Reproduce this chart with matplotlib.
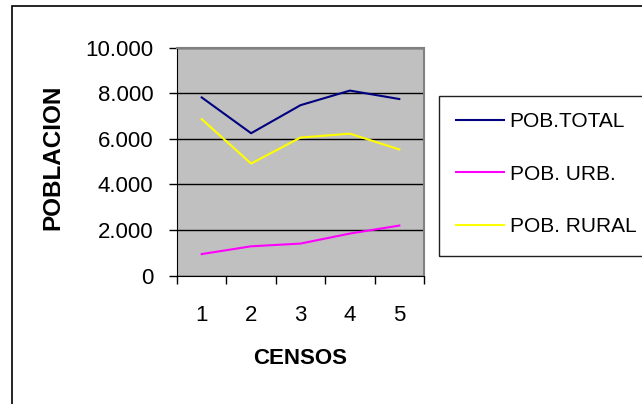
import numpy as np
import matplotlib
matplotlib.use("Agg")
import matplotlib.pyplot as plt
from matplotlib.patches import Rectangle

matplotlib.rc("font", family=["Liberation Sans", "DejaVu Sans"])

censos = [1, 2, 3, 4, 5]
pob_total = [7810, 6240, 7470, 8110, 7740]
pob_urb = [940, 1280, 1400, 1840, 2190]
pob_rural = [6860, 4910, 6050, 6220, 5530]
y_ticks = [0, 2000, 4000, 6000, 8000, 10000]
y_labels = ["0", "2.000", "4.000", "6.000", "8.000", "10.000"]

fig = plt.figure(figsize=(6.42, 4.04), dpi=100)
ax = fig.add_axes([177 / 642, 1 - 275.5 / 404, 247 / 642, 228 / 404])
ax.set_facecolor("#C0C0C0")

ax.plot(censos, pob_total, color="#000080", lw=1.5, label="POB.TOTAL")
ax.plot(censos, pob_urb, color="#FF00FF", lw=1.5, label="POB. URB.")
ax.plot(censos, pob_rural, color="#FFFF00", lw=1.5, label="POB. RURAL")

ax.set_ylim(0, 10000)
ax.set_xlim(0.5, 5.5)
ax.set_yticks(y_ticks)
ax.set_yticklabels(y_labels, fontsize=16)
ax.yaxis.grid(True, color="black", lw=1)
ax.set_axisbelow(True)
ax.tick_params(axis="y", length=6, width=1, pad=11, direction="out")

# category boundaries as ticks, labels in between
ax.set_xticks(np.arange(0.5, 6, 1))
ax.set_xticklabels([])
ax.set_xticks(censos, minor=True)
ax.set_xticklabels([str(c) for c in censos], minor=True, fontsize=16)
ax.tick_params(axis="x", which="major", length=6, width=1, direction="out")
ax.tick_params(axis="x", which="minor", length=0, pad=21)

for s in ["left", "bottom"]:
    ax.spines[s].set_color("black")
for s in ["top", "right"]:
    ax.spines[s].set_color("#808080")
    ax.spines[s].set_linewidth(1.5)

fig.text(53 / 642, 1 - 157 / 404, "POBLACION", rotation=90, fontsize=17.5,
         fontweight="bold", ha="center", va="center")
fig.text(300 / 642, 1 - 358 / 404, "CENSOS", fontsize=16,
         fontweight="bold", ha="center", va="center")

# legend without its own frame; the box runs off the right edge like the original
leg = fig.legend(loc="upper left", bbox_to_anchor=(455.5 / 642, 1 - 112 / 404),
                 fontsize=15, frameon=False,
                 handlelength=2.35, handletextpad=0.25, labelspacing=1.62,
                 borderpad=0, borderaxespad=0)
fig.patches.append(Rectangle((439 / 642, 1 - 255.7 / 404), 220 / 642, 160 / 404,
                             transform=fig.transFigure, fill=False,
                             edgecolor="#202020", lw=1))

# outer chart border, cut off at right and bottom
fig.patches.append(Rectangle((12 / 642, -0.1), 1.1, 1.1 - 6 / 404,
                             transform=fig.transFigure, fill=False,
                             edgecolor="black", lw=1.2))

fig.savefig("out.png", dpi=100)
